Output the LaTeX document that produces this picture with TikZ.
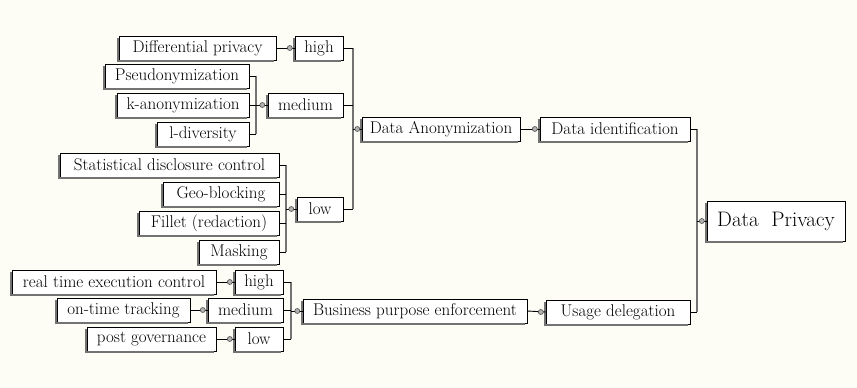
\documentclass[tikz,border=0pt]{standalone}
\definecolor{paper}{HTML}{FDFDF6}
\definecolor{busgray}{HTML}{737373}
\tikzset{box/.style = {draw, fill=white, inner sep=0, minimum height=24,
                       font=\fontsize{17}{19}\selectfont}}
\tikzset{rim/.style = {busgray, line width=2pt}}
\tikzset{dot/.style = {circle, draw=black!70, fill=black!30, inner sep=0,
                       minimum size=5, line width=0.6pt}}
\tikzset{stub/.style = {black, line width=0.9pt}}
\tikzset{bus/.style = {busgray, line width=2.5pt}}

\begin{document}
\begin{tikzpicture}[x=1pt, y=-1pt]
  \fill[paper] (0,0) rectangle (857,388);

  % anonymization branch
  \node[box, minimum width=157] (diffpriv) at (197.5,48) {Differential privacy};
  \node[box, minimum width=48]  (hi1)      at (319,48)   {high};
  \node[box, minimum width=144] (pseudo)   at (177,76)   {Pseudonymization};
  \node[box, minimum width=132] (kanon)    at (183,105)  {k-anonymization};
  \node[box, minimum width=92]  (ldiv)     at (203,134)  {l-diversity};
  \node[box, minimum width=75]  (med1)     at (305.5,105) {medium};
  \node[box, minimum width=219] (sdc)      at (169.5,165) {Statistical disclosure control};
  \node[box, minimum width=116] (geo)      at (221,194)  {Geo-blocking};
  \node[box, minimum width=140] (fillet)   at (209,223)  {Fillet (redaction)};
  \node[box, minimum width=80]  (mask)     at (239,252)  {Masking};
  \node[box, minimum width=46]  (lo1)      at (320,209)  {low};
  \node[box, minimum width=158] (anon)     at (441,129)  {Data Anonymization};
  \node[box, minimum width=150] (ident)    at (615,129)  {Data identification};

  % usage branch
  \node[box, minimum width=204] (rtec)     at (114,282)  {real time execution control};
  \node[box, minimum width=48]  (hi2)      at (259,282)  {high};
  \node[box, minimum width=133] (ontime)   at (123.5,310) {on-time tracking};
  \node[box, minimum width=75]  (med2)     at (245.5,310) {medium};
  \node[box, minimum width=129] (postgov)  at (151.5,339) {post governance};
  \node[box, minimum width=48]  (lo2)      at (259,339)  {low};
  \node[box, minimum width=224] (bpe)      at (415,311)  {Business purpose enforcement};
  \node[box, minimum width=144] (usage)    at (618,312)  {Usage delegation};

  \node[box, minimum width=138, minimum height=40, font=\fontsize{21}{24}\selectfont]
       (privacy) at (776,221) {Data\ \ Privacy};

  % grey rim on left and bottom of each box
  \foreach \n in {diffpriv, hi1, pseudo, kanon, ldiv, med1, sdc, geo, fillet, mask,
                  lo1, anon, ident, rtec, hi2, ontime, med2, postgov, lo2, bpe,
                  usage, privacy}
    \draw[rim] ([xshift=-1pt, yshift=-2pt]\n.north west)
            -- ([xshift=-1pt, yshift=-1pt]\n.south west)
            -- ([xshift=-2pt, yshift=-1pt]\n.south east);

  % single links
  \draw[stub] (diffpriv.east) -- (hi1.west) node[dot, pos=1, xshift=-5pt] {};
  \draw[stub] (rtec.east) -- (hi2.west) node[dot, pos=1, xshift=-5pt] {};
  \draw[stub] (ontime.east) -- (med2.west) node[dot, pos=1, xshift=-5pt] {};
  \draw[stub] (postgov.east) -- (lo2.west) node[dot, pos=1, xshift=-5pt] {};
  \draw[stub] (bpe.east) -- (usage.west) node[dot, pos=1, xshift=-5pt] {};
  \draw[stub] (anon.east) -- (ident.west) node[dot, pos=1, xshift=-5pt] {};

  % medium
  \coordinate (bmed) at ([xshift=-12pt]med1.west);
  \draw[bus] (bmed |- pseudo.east) -- (bmed |- ldiv.east);
  \foreach \c in {pseudo, kanon, ldiv} \draw[stub] (\c.east) -- (\c.east -| bmed);
  \draw[stub] (bmed) -- (med1.west) node[dot, pos=1, xshift=-5.5pt] {};

  % low
  \coordinate (blow) at ([xshift=-11pt]lo1.west);
  \draw[bus] (blow |- sdc.east) -- (blow |- mask.east);
  \foreach \c in {sdc, geo, fillet, mask} \draw[stub] (\c.east) -- (\c.east -| blow);
  \draw[stub] (blow) -- (lo1.west) node[dot, pos=1, xshift=-5.5pt] {};

  % data anonymization
  \coordinate (banon) at ([xshift=-9pt]anon.west);
  \draw[bus] (banon |- hi1.east) -- (banon |- lo1.east);
  \foreach \c in {hi1, med1, lo1} \draw[stub] (\c.east) -- (\c.east -| banon);
  \draw[stub] (banon) -- (anon.west) node[dot, pos=1, xshift=-4.5pt] {};

  % business purpose enforcement
  \coordinate (bbpe) at ([xshift=-12pt]bpe.west);
  \draw[bus] (bbpe |- hi2.east) -- (bbpe |- lo2.east);
  \foreach \c in {hi2, med2, lo2} \draw[stub] (\c.east) -- (\c.east -| bbpe);
  \draw[stub] (bbpe) -- (bpe.west) node[dot, pos=1, xshift=-5.5pt] {};

  % data privacy
  \coordinate (bpriv) at ([xshift=-10pt]privacy.west);
  \draw[bus] (bpriv |- ident.east) -- (bpriv |- usage.east);
  \foreach \c in {ident, usage} \draw[stub] (\c.east) -- (\c.east -| bpriv);
  \draw[stub] (bpriv) -- (privacy.west) node[dot, pos=1, xshift=-5pt] {};
\end{tikzpicture}
\end{document}
